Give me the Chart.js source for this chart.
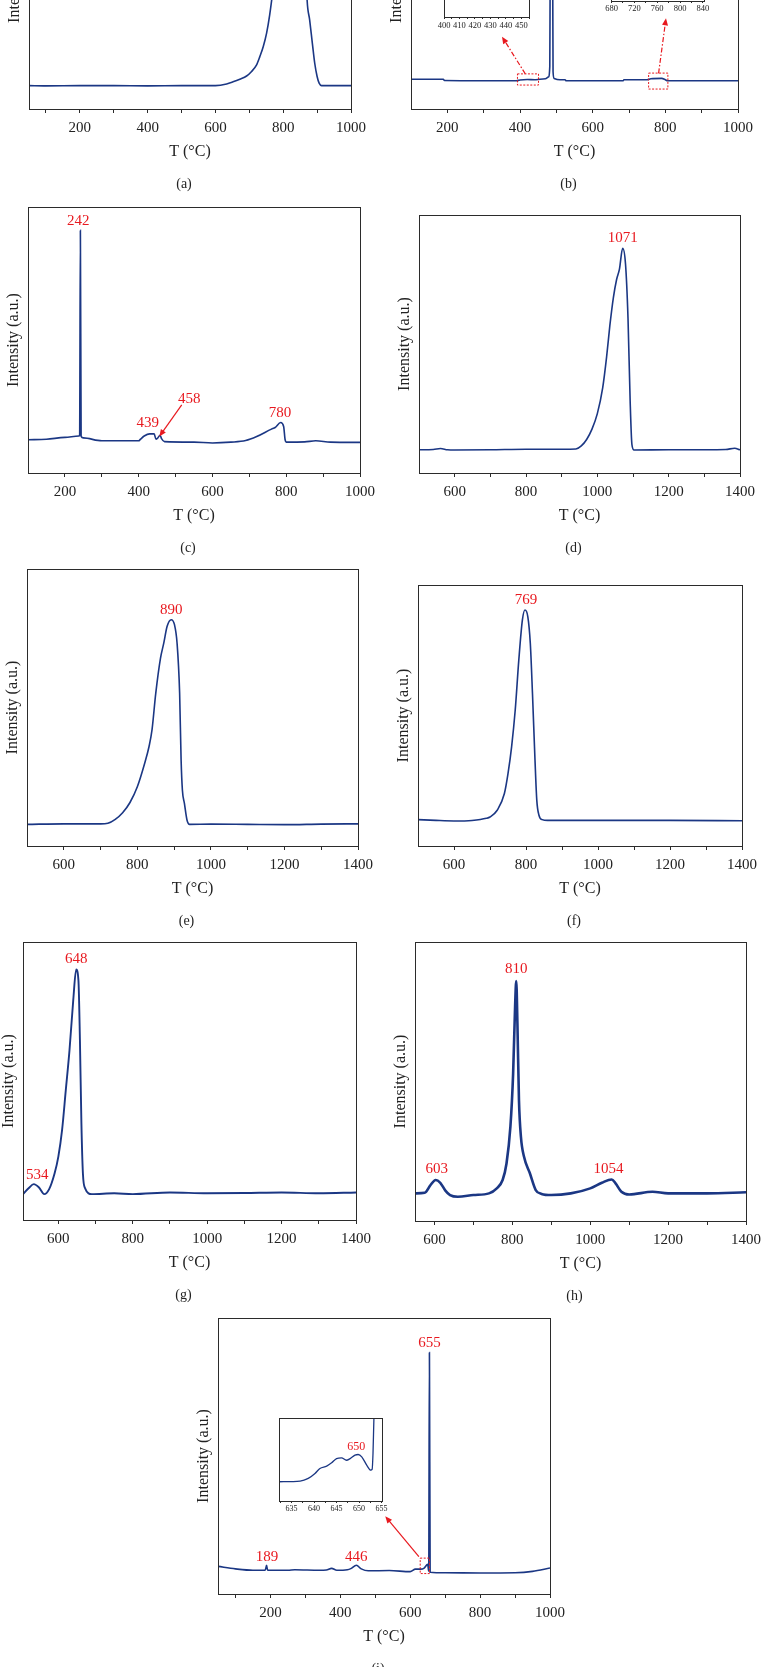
<!DOCTYPE html>
<html><head><meta charset="utf-8">
<script src="https://cdn.jsdelivr.net/npm/chart.js@4.4.1/dist/chart.umd.min.js"></script>
<style>
html,body{margin:0;padding:0;background:#fff;}
body{width:761px;height:1667px;position:relative;overflow:hidden;}
.box{position:absolute;}
canvas{display:block;}
</style></head><body>
<script>
// ---------- data (T in °C, intensity in a.u. on a 0–100 plot scale) ----------
const aT = [50,100,200,300,400,500,600,633,652,672,692,706,721,731,741,751,760,780,800,820,840,855,865,870.5,878,886,893,900,906,913,950,1000];
const aI = [8.8,8.7,8.8,8.8,8.7,8.8,8.8,9.4,10.2,11.2,12.4,14.0,16.5,19.7,23.4,28.5,35.3,55,72,84,88,80,60,41,33.5,24.7,17.2,12.2,9.7,8.8,8.8,8.8];

const bT = [100,189,192,300,390,400,420,440,455,470,478,482,483,486.5,490,491,494,510,524,527,600,684,686,750,760,790,800,806,900,1000];
const bI = [11.2,11.2,10.7,10.6,10.6,10.9,11.1,11.0,11.2,11.4,12.0,16,50,90,50,14,11.5,11.0,11.0,10.6,10.6,10.6,11.0,11.0,11.4,11.5,11.0,10.6,10.6,10.6];

const cT = [100,150,200,238,240,242,244,250,300,400,405,415,430,442,447,452,458,462,470,550,600,650,690,720,760,770,785,793,797,800,850,880,920,1000];
const cI = [12.5,12.7,13.4,13.9,14.3,91.2,13.8,13.2,12.1,12.1,12.7,13.9,14.7,14.7,12.7,13.2,14.2,12.9,11.8,11.6,11.3,11.6,12.2,13.7,16.5,17.1,19.0,17.5,12.5,11.6,11.7,12.1,11.6,11.5];

const dT = [500,540,560,580,600,700,800,900,940,955,970,985,1000,1015,1026,1035,1045,1054,1062,1071,1079,1086,1092,1097,1103,1200,1300,1360,1385,1400];
const dI = [9.0,9.1,9.5,9.0,8.9,9.0,9.2,9.2,9.3,10.5,13,17,23,33,45,57,68,75,79,87.1,81,60,28,11,8.9,9.0,9.0,9.1,9.6,9.0];

const eT = [500,600,700,720,740,760,780,800,820,832,840,850,863,872,881,892,901,908,915,919,922.5,928,935,942,1000,1100,1200,1300,1400];
const eI = [7.8,8.0,8.0,8.2,9.6,12,15.7,21.4,29.9,36,42,55,67.8,73.3,79.3,81.7,79.9,73.3,55.2,31.1,20.2,15.4,9.4,7.8,7.9,7.8,7.7,7.9,8.0];

const fT = [500,550,600,650,690,700,720,740,750,760,770,780,790,797,805,812,818,825,830,836,845,860,1000,1200,1400];
const fI = [10.1,9.8,9.6,9.8,10.6,11.1,13.7,20.1,27.7,38,52,71.2,86.6,90.4,87.9,77.6,58.4,32.9,17.5,11.8,10.1,9.8,9.8,9.8,9.7];

const gT = [505,520,534,548,562,575,590,600,610,620,630,640,648,654,658,662,666,672,690,750,800,900,1000,1100,1200,1300,1400];
const gI = [9.3,11.4,12.9,11.7,9.3,11.0,16.8,22.8,32.3,46.7,61.1,79.0,90.1,86.2,64.7,34.7,16.8,11.4,9.3,9.6,9.3,9.9,9.6,9.7,9.9,9.6,9.9];

const hT = [550,575,590,603,615,628,640,660,700,740,760,775,785,795,802,807,810,813,817,822,830,845,860,875,900,950,1000,1030,1055,1065,1080,1100,1160,1200,1300,1400];
const hI = [9.9,10.1,12.9,14.7,13.7,10.9,9.3,8.7,9.3,9.9,11.7,14.7,20.6,33.8,52.9,76.7,86.0,70.8,43.3,30.2,23,17.1,11.1,9.7,9.3,9.9,11.7,13.7,14.9,13.5,10.5,9.5,10.5,9.9,9.9,10.3];

const iT = [50,100,150,185,189,192,250,270,340,360,375,390,420,430,446,460,480,540,600,615,630,640,650,653,655,657,700,800,900,950,1000];
const iI = [10.0,9.1,8.6,8.6,10.4,8.6,8.6,8.8,8.6,8.7,9.3,8.6,8.8,9.2,10.4,9.1,8.4,8.5,8.1,9.0,9.0,9.4,10.8,8.2,87.5,7.9,7.7,7.6,7.7,8.2,9.4];

// inset of (i): 632–655 °C
const iiT = [632.2,636.9,638.7,640.2,641.3,642.8,643.9,645,646.1,647.2,648,649.1,649.8,650.6,651.7,652.6,652.9,653.1,653.3,653.5];
const iiI = [23.2,24.0,27.2,33.2,39.2,42.0,46.0,51.1,51.9,49.1,51.1,55.2,56.0,53.2,43.2,37.2,38.0,57.2,99.2,130];

// tick values
const ticks50_1000  = [100,200,300,400,500,600,700,800,900,1000];
const ticks100_1000 = [200,300,400,500,600,700,800,900,1000];
const ticks500_1400 = [600,700,800,900,1000,1100,1200,1300,1400];
const ticksInsetB1  = [400,405,410,415,420,425,430,435,440,445,450,455];
const ticksInsetB2  = [680,700,720,740,760,780,800,820,840];
const ticksInsetI   = [632.5,635,637.5,640,642.5,645,647.5,650,652.5,655];

// peak labels [text, T, intensity]
const cLabels = [['242',236,94.6],['439',424.5,18.7],['458',537,27.7],['780',783,22.5]];
const dLabels = [['1071',1071,91]];
const eLabels = [['890',892,85.0]];
const fLabels = [['769',800,94.2]];
const gLabels = [['648',648,94],['534',543,16.2]];
const hLabels = [['810',810,90.2],['603',606,18.5],['1054',1047,18.5]];
const iLabels = [['655',655,91.0],['189',190.5,13.3],['446',445.7,13.3]];
const iiLabels = [['650',649.4,65]];

// ---------- drawing ----------
const SERIF = "'Liberation Serif','DejaVu Serif','Times New Roman',serif";
const BLUE = '#1b3784';
const RED = '#e8191f';
const INK = '#2b2b2b';
const ML = 45, MT = 30, MR = 25, MB = 95;

const marksPlugin = {
  id: 'marks',
  beforeDraw(chart, args, o) {
    if (o.white) {
      const a = chart.chartArea, ctx = chart.ctx;
      ctx.save(); ctx.fillStyle = '#fff';
      ctx.fillRect(a.left, a.top, a.right - a.left, a.bottom - a.top);
      ctx.restore();
    }
  },
  afterDraw(chart, args, o) {
    const {ctx, chartArea: a} = chart;
    const x = chart.scales.x, y = chart.scales.y;
    ctx.save();
    ctx.strokeStyle = INK; ctx.lineWidth = 1; ctx.setLineDash([]);
    ctx.strokeRect(a.left + 0.5, a.top + 0.5, a.right - a.left, a.bottom - a.top);
    (o.rects || []).forEach(r => {
      const x1 = x.getPixelForValue(r[0]), x2 = x.getPixelForValue(r[1]);
      const y1 = y.getPixelForValue(r[2]), y2 = y.getPixelForValue(r[3]);
      ctx.strokeStyle = RED; ctx.lineWidth = 1; ctx.setLineDash([2, 1.5]);
      ctx.strokeRect(x1, y2, x2 - x1, y1 - y2);
    });
    (o.arrows || []).forEach(r => {
      const x1 = x.getPixelForValue(r[0]), y1 = y.getPixelForValue(r[1]);
      const x2 = x.getPixelForValue(r[2]), y2 = y.getPixelForValue(r[3]);
      const ang = Math.atan2(y2 - y1, x2 - x1);
      const L = 7, W = 3;
      ctx.strokeStyle = RED; ctx.fillStyle = RED; ctx.lineWidth = 1.2;
      ctx.setLineDash(r[4] ? [5, 2, 1.5, 2] : []);
      ctx.beginPath(); ctx.moveTo(x1, y1);
      ctx.lineTo(x2 - (L - 1) * Math.cos(ang), y2 - (L - 1) * Math.sin(ang)); ctx.stroke();
      ctx.setLineDash([]);
      ctx.beginPath(); ctx.moveTo(x2, y2);
      ctx.lineTo(x2 - L * Math.cos(ang) + W * Math.sin(ang), y2 - L * Math.sin(ang) - W * Math.cos(ang));
      ctx.lineTo(x2 - L * Math.cos(ang) - W * Math.sin(ang), y2 - L * Math.sin(ang) + W * Math.cos(ang));
      ctx.closePath(); ctx.fill();
    });
    ctx.fillStyle = RED; ctx.textAlign = 'center'; ctx.textBaseline = 'middle';
    ctx.font = (o.labelSize || 15) + 'px ' + SERIF;
    (o.labels || []).forEach(l => ctx.fillText(l[0], x.getPixelForValue(l[1]), y.getPixelForValue(l[2])));
    if (o.tag) {
      ctx.fillStyle = '#222'; ctx.font = '14px ' + SERIF;
      ctx.fillText(o.tag, (a.left + a.right) / 2 - 6, a.bottom + 75);
    }
    ctx.restore();
  }
};

function makeChart(c) {
  const [l, t, r, b] = c.rect;
  const W = r - l + ML + MR, H = b - t + MT + MB;
  const div = document.createElement('div'); div.className = 'box';
  div.style.left = (l - ML) + 'px'; div.style.top = (t - MT) + 'px';
  div.style.width = W + 'px'; div.style.height = H + 'px';
  const cv = document.createElement('canvas');
  cv.width = W; cv.height = H; cv.style.width = W + 'px'; cv.style.height = H + 'px';
  div.appendChild(cv); document.body.appendChild(div);
  const titles = c.titles !== false;
  const every = c.every || 200;
  new Chart(cv, {
    type: 'line',
    data: { datasets: [{
      data: c.T.map((v, k) => ({x: v, y: c.I[k]})),
      borderColor: BLUE, borderWidth: c.lw || 1.6, pointRadius: 0,
      cubicInterpolationMode: 'monotone', fill: false
    }]},
    options: {
      responsive: false, animation: false, devicePixelRatio: 1,
      layout: { padding: { left: 0, top: MT, right: MR, bottom: 0 } },
      plugins: { legend: {display: false}, tooltip: {enabled: false}, marks: c.marks || {} },
      scales: {
        x: {
          type: 'linear', min: c.xMin, max: c.xMax,
          afterFit(s) { s.height = MB; },
          afterBuildTicks(s) { s.ticks = c.ticks.map(v => ({value: v})); },
          ticks: { autoSkip: false, maxRotation: 0, padding: c.tickPad == null ? 6 : c.tickPad, color: '#222',
                   font: {family: SERIF, size: c.tickFont || 15},
                   callback: v => (Math.abs(v % every) < 1e-6 ? String(v) : '') },
          grid: { display: true, drawOnChartArea: false, drawTicks: true, tickLength: c.tickLen || 4, color: INK, lineWidth: 1 },
          border: { display: false },
          title: { display: titles, text: 'T (°C)', color: '#222', font: {family: SERIF, size: 16},
                   padding: {top: 0, bottom: MB - 42.5 - 9.6} }
        },
        y: {
          min: c.yMin == null ? 0 : c.yMin, max: c.yMax == null ? 100 : c.yMax,
          afterFit(s) { s.width = ML; },
          ticks: { display: false }, grid: { display: false }, border: { display: false },
          title: { display: titles, text: 'Intensity (a.u.)', color: '#222', font: {family: SERIF, size: 16},
                   padding: {top: ML - 14 - 9.6, bottom: 0} }
        }
      }
    },
    plugins: [marksPlugin]
  });
}

// (a)
makeChart({rect: [29, -157, 351, 109], xMin: 50, xMax: 1000, ticks: ticks50_1000, T: aT, I: aI, marks: {tag: '(a)'}});
// (b)
makeChart({rect: [411, -157, 738, 109], xMin: 100, xMax: 1000, ticks: ticks100_1000, T: bT, I: bI,
  marks: {tag: '(b)',
    rects: [[393, 451, 9.0, 13.2], [754, 807, 7.5, 13.5]],
    arrows: [[414.6, 13.2, 350.5, 27.2, true], [781.4, 13.4, 801.8, 34.1, true]]}});
// (b) insets
makeChart({rect: [444, -50, 529, 17], xMin: 400, xMax: 455, ticks: ticksInsetB1, every: 10,
  T: bT.filter(v => v >= 400 && v <= 455), I: bI.filter((v, k) => bT[k] >= 400 && bT[k] <= 455),
  yMin: 10.0, yMax: 11.5, titles: false, tickFont: 8.5, tickLen: 2, tickPad: 2, lw: 1.2, marks: {white: true}});
makeChart({rect: [611, -70, 704, 1], xMin: 679, xMax: 842, ticks: ticksInsetB2, every: 40,
  T: bT.filter(v => v >= 679 && v <= 842), I: bI.filter((v, k) => bT[k] >= 679 && bT[k] <= 842),
  yMin: 9.5, yMax: 11.8, titles: false, tickFont: 8.5, tickLen: 2, tickPad: 1, lw: 1.2, marks: {white: true}});
// (c)
makeChart({rect: [28, 207, 360, 473], xMin: 100, xMax: 1000, ticks: ticks100_1000, T: cT, I: cI,
  marks: {tag: '(c)', labels: cLabels, arrows: [[516.7, 25.6, 456, 13.7, false]]}});
// (d)
makeChart({rect: [419, 215, 740, 473], xMin: 500, xMax: 1400, ticks: ticks500_1400, T: dT, I: dI,
  marks: {tag: '(d)', labels: dLabels}});
// (e)
makeChart({rect: [27, 569, 358, 846], xMin: 500, xMax: 1400, ticks: ticks500_1400, T: eT, I: eI,
  marks: {tag: '(e)', labels: eLabels}});
// (f)
makeChart({rect: [418, 585, 742, 846], xMin: 500, xMax: 1400, ticks: ticks500_1400, T: fT, I: fI,
  marks: {tag: '(f)', labels: fLabels}});
// (g)
makeChart({rect: [23, 942, 356, 1220], xMin: 505, xMax: 1400, ticks: ticks500_1400, T: gT, I: gI, lw: 1.9,
  marks: {tag: '(g)', labels: gLabels}});
// (h)
makeChart({rect: [415, 942, 746, 1221], xMin: 550, xMax: 1400, ticks: ticks500_1400, T: hT, I: hI, lw: 2.6,
  marks: {tag: '(h)', labels: hLabels}});
// (i)
makeChart({rect: [218, 1318, 550, 1594], xMin: 50, xMax: 1000, ticks: ticks50_1000, T: iT, I: iI,
  marks: {tag: '(i)', labels: iLabels,
    rects: [[628.6, 655.2, 7.4, 13.0]],
    arrows: [[624.8, 13.5, 528.6, 28.2, false]]}});
// (i) inset
makeChart({rect: [279, 1418, 382, 1501], xMin: 632.2, xMax: 655.1, ticks: ticksInsetI, every: 5,
  T: iiT, I: iiI, titles: false, tickFont: 8, tickLen: 2, tickPad: 1.5, lw: 1.3,
  marks: {white: true, labels: iiLabels, labelSize: 12}});
</script>
</body></html>
